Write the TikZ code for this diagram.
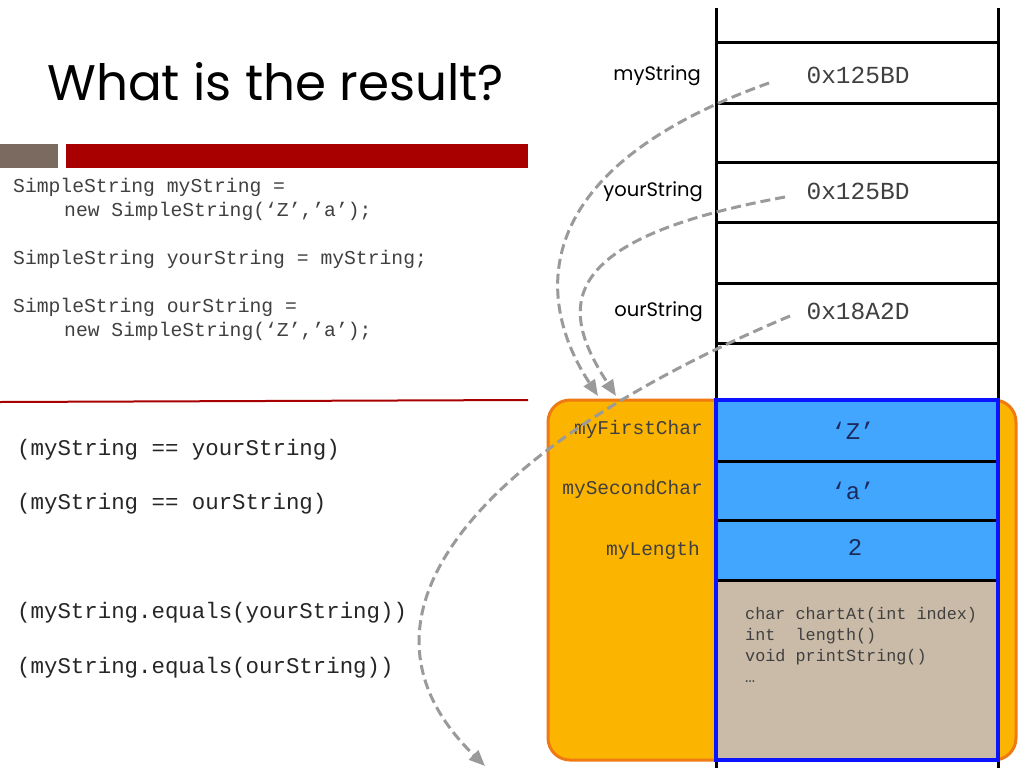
\documentclass[tikz,border=0pt]{standalone}
\usepackage{fontspec}
\setmainfont{Poppins}
\newfontfamily\codefont{Liberation Mono}
\newfontfamily\titlefont{Poppins}
\usetikzlibrary{arrows.meta}
\definecolor{orangefill}{HTML}{FBB400}
\definecolor{orangeedge}{HTML}{F07A12}
\definecolor{cellblue}{HTML}{42A6FF}
\definecolor{edgeblue}{HTML}{0A14FF}
\definecolor{tan}{HTML}{C9BBA7}
\definecolor{barred}{HTML}{A80000}
\definecolor{bargray}{HTML}{7A6A60}
\definecolor{dashgray}{HTML}{9A9A9A}
\definecolor{valblue}{HTML}{1C2A5C}
\tikzset{
  stackline/.style={line width=3pt, black},
  code/.style={font=\codefont\fontsize{19.7}{24}\selectfont, text=black!75, anchor=west, inner sep=0pt},
  cmp/.style={font=\codefont\fontsize{22.4}{26}\selectfont, text=black!85, anchor=west, inner sep=0pt},
  varlabel/.style={font=\fontsize{19.5}{23}\selectfont, anchor=east, inner sep=0pt},
  addr/.style={font=\codefont\fontsize{24.5}{28}\selectfont, text=black!75, inner sep=0pt},
  field/.style={font=\codefont\fontsize{19.5}{24}\selectfont, text=black!75, anchor=east, inner sep=0pt},
  cellval/.style={font=\codefont\fontsize{24}{28}\selectfont, text=valblue, inner sep=0pt},
  method/.style={font=\codefont\fontsize{16.8}{21}\selectfont, text=black!75, anchor=west, inner sep=0pt, align=left},
  ptr/.style={dashgray, line width=3pt, dash pattern=on 10pt off 5pt, -{Triangle[length=16pt,width=13pt]}},
}
\begin{document}
\begin{tikzpicture}[x=1pt,y=-1pt]
\useasboundingbox[fill=white] (0,0) rectangle (1024,768);
% title
\node[font=\titlefont\fontsize{50}{56}\selectfont, anchor=west, inner sep=0pt] (title) at (47,82) {What is the result?};
% bars
\fill[bargray] (0,144) rectangle (58,168);
\fill[barred] (66,144) rectangle (528,168);
\draw[barred, line width=2pt] (0,402) -- (528,400);
% code
\node[code] (c1) at (13,187) {SimpleString myString =};
\node[code] (c2) at (64,211) {new SimpleString(‘Z’,’a’);};
\node[code] (c3) at (13,259) {SimpleString yourString = myString;};
\node[code] (c4) at (13,307) {SimpleString ourString =};
\node[code] (c5) at (64,331) {new SimpleString(‘Z’,’a’);};
% comparisons
\node[cmp] (q1) at (17,450) {(myString == yourString)};
\node[cmp] (q2) at (17,504) {(myString == ourString)};
\node[cmp] (q3) at (17,613) {(myString.equals(yourString))};
\node[cmp] (q4) at (17,668) {(myString.equals(ourString))};
% object box
\draw[fill=orangefill, draw=orangeedge, line width=3pt, rounded corners=22pt] (548,400) rectangle (1016,760);
\fill[cellblue] (716,400) rectangle (998,580);
\fill[tan] (716,580) rectangle (998,760);
% stack
\draw[stackline] (716,8) -- (716,768);
\draw[stackline] (998,8) -- (998,768);
\foreach \yy in {43,103,162,222,283,343,461,520,580}
  \draw[stackline] (716,\yy) -- (998,\yy);
\draw[edgeblue, line width=4pt] (716,400) rectangle (998,760);
% stack labels and values
\node[varlabel] (lmy) at (701,76) {myString};
\node[varlabel] (lyour) at (703,192) {yourString};
\node[varlabel] (lour) at (703,312) {ourString};
\node[addr] (vmy) at (858,75) {0x125BD};
\node[addr] (vyour) at (858,191) {0x125BD};
\node[addr] (vour) at (858,311) {0x18A2D};
% fields
\node[field] (f1) at (703,429) {myFirstChar};
\node[field] (f2) at (703,489) {mySecondChar};
\node[field] (f3) at (700,550) {myLength};
\node[cellval] (z) at (853,431) {‘Z’};
\node[cellval] (a) at (853,491) {‘a’};
\node[cellval] (n) at (855,547) {2};
\node[method] (m) at (745,645) {char chartAt(int index)\\int~~length()\\void printString()\\…};
% pointers
\coordinate (s1) at (769,83);
\coordinate (s2) at (785,197);
\coordinate (s3) at (790,316);
\coordinate (e1) at (598,396);
\coordinate (e2) at (616,396);
\coordinate (e3) at (485,766);
\draw[ptr] (s1) .. controls (525,170) and (535,300) .. (e1);
\draw[ptr] (s2) .. controls (550,240) and (560,310) .. (e2);
\draw[ptr] (s3) .. controls (495,440) and (325,610) .. (e3);
\end{tikzpicture}
\end{document}
